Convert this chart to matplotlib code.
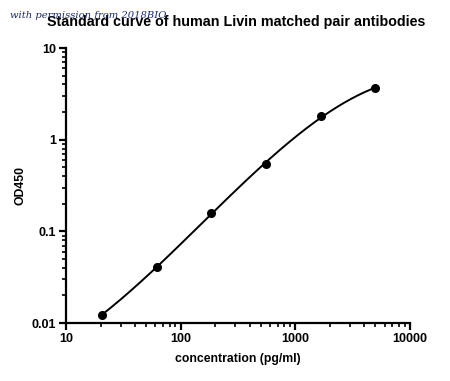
import numpy as np
import matplotlib.pyplot as plt
from matplotlib.ticker import LogLocator, FixedLocator, FixedFormatter, NullFormatter

# Standard curve data (3-fold dilution series)
conc = [20.6, 61.7, 185.2, 555.6, 1666.7, 5000.0]
od450 = [0.0123, 0.041, 0.158, 0.54, 1.81, 3.66]

xticks = [10, 100, 1000, 10000]
xticklabels = ['10', '100', '1000', '10000']
yticks = [0.01, 0.1, 1, 10]
yticklabels = ['0.01', '0.1', '1', '10']

plt.rcParams['font.family'] = ['Liberation Sans', 'DejaVu Sans']

fig = plt.figure(figsize=(4.5, 3.81), dpi=100)
ax = fig.add_axes([0.1467, 0.152, 0.7644, 0.722])

# fitted curve in log-log space
lx = np.log10(conc)
ly = np.log10(od450)
coef = np.polyfit(lx, ly, 3)
xf = np.linspace(lx[0], lx[-1], 200)
ax.plot(10 ** xf, 10 ** np.polyval(coef, xf), color='black', linewidth=1.4, zorder=2)
ax.plot(conc, od450, 'o', color='black', markersize=5.5, zorder=3)

ax.set_xscale('log')
ax.set_yscale('log')
ax.set_xlim(10, 10000)
ax.set_ylim(0.01, 10)

ax.xaxis.set_major_locator(FixedLocator(xticks))
ax.xaxis.set_major_formatter(FixedFormatter(xticklabels))
ax.yaxis.set_major_locator(FixedLocator(yticks))
ax.yaxis.set_major_formatter(FixedFormatter(yticklabels))
ax.xaxis.set_minor_locator(LogLocator(base=10, subs=np.arange(2, 10)))
ax.yaxis.set_minor_locator(LogLocator(base=10, subs=np.arange(2, 10)))
ax.xaxis.set_minor_formatter(NullFormatter())
ax.yaxis.set_minor_formatter(NullFormatter())

for s in ['top', 'right']:
    ax.spines[s].set_visible(False)
for s in ['left', 'bottom']:
    ax.spines[s].set_linewidth(1.6)

ax.tick_params(which='major', length=5, width=1.6, labelsize=9, pad=2)
ax.tick_params(which='minor', length=3, width=1.2)
for lab in ax.get_xticklabels() + ax.get_yticklabels():
    lab.set_fontweight('bold')

ax.set_xlabel('concentration (pg/ml)', fontsize=8.8, fontweight='bold', labelpad=6)
ax.set_ylabel('OD450', fontsize=8.8, fontweight='bold', labelpad=4)

fig.text(0.525, 0.943, 'Standard curve of human Livin matched pair antibodies',
         ha='center', va='center', fontsize=10.3, fontweight='bold')
fig.text(0.022, 0.96, 'with permission from 2018BIO', ha='left', va='center',
         fontsize=7.2, style='italic', family='DejaVu Serif', color='#1a2a6c')

fig.savefig('out.png', dpi=100)
